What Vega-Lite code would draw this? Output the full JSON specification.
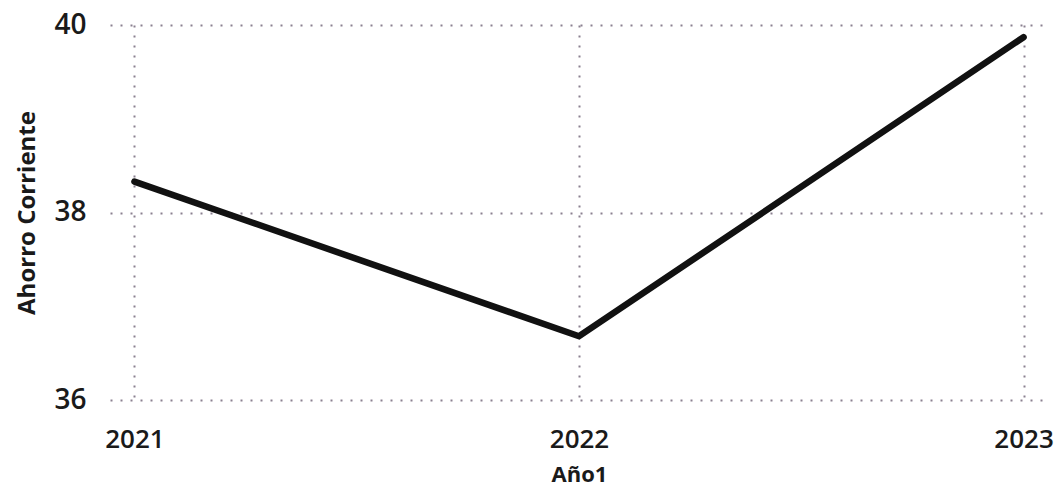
{
  "$schema": "https://vega.github.io/schema/vega-lite/v6.json",
  "width": 938,
  "height": 375,
  "autosize": {"type": "none"},
  "padding": {"left": 110, "top": 25, "right": 16, "bottom": 92},
  "background": "white",
  "config": {
    "view": {"stroke": null},
    "font": "Open Sans"
  },
  "data": {
    "values": [
      {"Año1": "2021", "Ahorro Corriente": 38.33},
      {"Año1": "2022", "Ahorro Corriente": 36.68},
      {"Año1": "2023", "Ahorro Corriente": 39.87}
    ]
  },
  "mark": {"type": "line", "color": "#111111", "strokeWidth": 6.5, "strokeCap": "round", "strokeJoin": "miter"},
  "encoding": {
    "x": {
      "field": "Año1",
      "type": "ordinal",
      "scale": {"type": "point", "padding": 0.055},
      "axis": {
        "labelAngle": 0,
        "labelFontSize": 26,
        "labelFontWeight": 600,
        "labelColor": "#1a1a1a",
        "labelPadding": 26,
        "domain": false,
        "ticks": false,
        "grid": true,
        "gridColor": "#8a8090",
        "gridDash": [2, 8],
        "gridWidth": 2,
        "title": "Año1",
        "titleFontSize": 22,
        "titleFontWeight": "bold",
        "titleColor": "#1a1a1a",
        "titlePadding": 12
      }
    },
    "y": {
      "field": "Ahorro Corriente",
      "type": "quantitative",
      "scale": {"domain": [36, 40], "zero": false, "nice": false},
      "axis": {
        "values": [36, 38, 40],
        "labelFontSize": 28,
        "labelFontWeight": 600,
        "labelColor": "#1a1a1a",
        "labelPadding": 24,
        "domain": false,
        "ticks": false,
        "grid": true,
        "gridColor": "#8a8090",
        "gridDash": [2, 8],
        "gridWidth": 2,
        "title": "Ahorro Corriente",
        "titleFontSize": 24,
        "titleFontWeight": "bold",
        "titleColor": "#1a1a1a",
        "titlePadding": 14
      }
    }
  }
}
